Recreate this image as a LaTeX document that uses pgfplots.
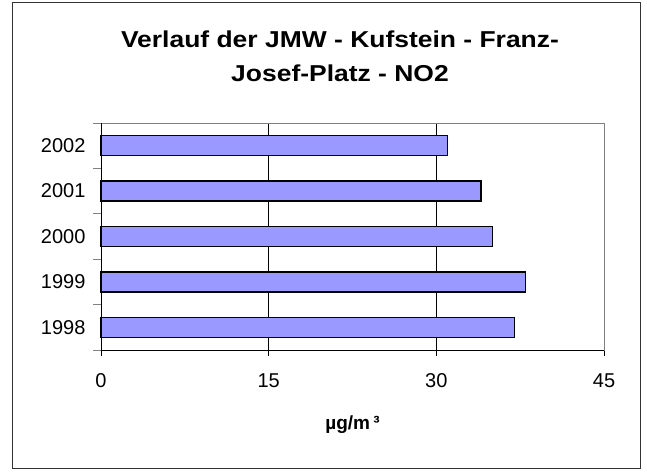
\documentclass[border=0pt]{standalone}
\usepackage{pgfplots}
\pgfplotsset{compat=1.18}
\usepackage{fontspec}
\setmainfont{Liberation Sans}
\newfontfamily\titlefont[FakeStretch=1.15]{Liberation Sans}
\definecolor{barblue}{HTML}{9999FF}
\definecolor{framegray}{HTML}{808080}
\begin{document}
\begin{tikzpicture}[x=1pt,y=1pt]
\begin{axis}[
  at={(101pt,122pt)}, anchor=south west,
  scale only axis, width=503pt, height=227pt,
  xbar, bar width=20pt,
  xmin=0, xmax=45, ymin=-0.5, ymax=4.5,
  xtick={0,15,30,45},
  ytick={0,1,2,3,4},
  yticklabels={1998,1999,2000,2001,2002},
  minor ytick={-0.5,0.5,1.5,2.5,3.5,4.5},
  xtick pos=bottom, ytick pos=left,
  tick align=outside,
  major tick length=6pt, minor tick length=8pt,
  ytick style={draw=none},
  minor y tick style={draw=framegray, line width=0.8pt},
  xtick style={black, line width=0.6pt},
  xmajorgrids, major x grid style={black, line width=0.6pt},
  axis line style={framegray, line width=0.8pt},
  tick label style={font=\fontsize{20}{23}\selectfont},
  /pgf/number format/assume math mode=true,
  yticklabel style={xshift=-6pt},
  xticklabel style={yshift=-14pt},
  xlabel={µg/m\,³},
  xlabel style={font=\bfseries\fontsize{19}{22}\selectfont, at={(axis description cs:0.5,0)}, anchor=center, yshift=-75pt},
  clip=false,
  after end axis/.code={
    \draw[black, line width=0.8pt] (rel axis cs:0,1) -- (rel axis cs:0,0) -- (rel axis cs:1,0);
  },
]
\addplot[fill=barblue, draw=black, line width=1.3pt] coordinates {
  (37,0) (38,1) (35,2) (34,3) (31,4)
};
\end{axis}
\node[anchor=base, font=\titlefont\bfseries\fontsize{23}{27}\selectfont] at (340pt,424pt) {Verlauf der JMW - Kufstein - Franz-};
\node[anchor=base, font=\titlefont\bfseries\fontsize{23}{27}\selectfont] at (340pt,390pt) {Josef-Platz - NO2};
\draw[black!80, line width=1pt] (12pt,4pt) rectangle (640pt,469pt);
\pgfresetboundingbox
\path[use as bounding box] (0,0) rectangle (647pt,472pt);
\end{tikzpicture}
\end{document}
